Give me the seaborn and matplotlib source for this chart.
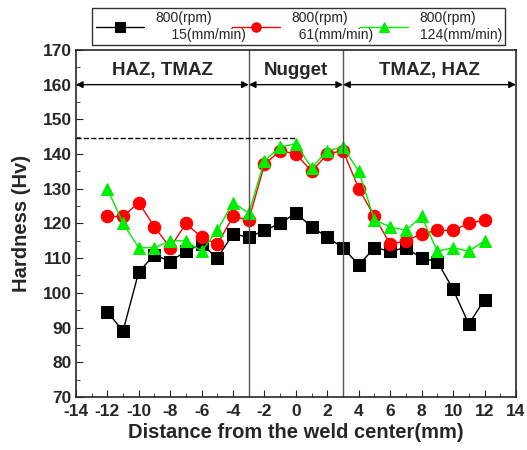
import numpy as np
import pandas as pd
import seaborn as sns
import matplotlib.pyplot as plt
from matplotlib.ticker import MultipleLocator

distance = list(range(-12, 13))
hv_15 = [94.5, 89, 106, 111, 109, 112, 114, 110, 117, 116, 118, 120, 123,
         119, 116, 113, 108, 113, 112, 113, 110, 109, 101, 91, 98]
hv_61 = [122, 122, 126, 119, 113, 120, 116, 114, 122, 121, 137, 141, 140,
         135, 140, 141, 130, 122, 114, 115, 117, 118, 118, 120, 121]
hv_124 = [130, 120, 113, 113, 115, 115, 112, 118, 126, 123, 138, 142, 143,
          136, 141, 142, 135, 121, 119, 118, 122, 112, 113, 112, 115]
labels = ['800(rpm)\n    15(mm/min)', '800(rpm)\n  61(mm/min)', '800(rpm)\n124(mm/min)']
zones = ['HAZ, TMAZ', 'Nugget', 'TMAZ, HAZ']
zone_edges = [-14, -3, 3, 14]

sns.set_style('ticks')
plt.rcParams['font.family'] = ['Liberation Sans', 'DejaVu Sans']
plt.rcParams['font.weight'] = 'bold'
plt.rcParams['axes.unicode_minus'] = False

fig = plt.figure(figsize=(5.27, 4.5), dpi=100)
ax = fig.add_axes([0.144, 0.118, 0.835, 0.771])

series = [(hv_15, 'black', 's'), (hv_61, 'red', 'o'), (hv_124, '#00ee00', '^')]
for (vals, col, mk), lab in zip(series, labels):
    sns.lineplot(x=distance, y=vals, ax=ax, color=col, marker=mk, markersize=9,
                 markeredgecolor=col, linewidth=1, label=lab)

# zone separators and arrows
for xv in [-3, 3]:
    ax.axvline(xv, color='#555555', lw=1)
for a, b, name in zip(zone_edges[:-1], zone_edges[1:], zones):
    ax.annotate('', xy=(b, 160), xytext=(a, 160),
                arrowprops=dict(arrowstyle='<|-|>', color='black', lw=1,
                                mutation_scale=10, shrinkA=0, shrinkB=0))
    ax.text((a + b) / 2, 164, name, ha='center', va='center',
            fontsize=13.5, fontweight='bold')
ax.plot([-14, 0], [144.5, 144.5], color='black', ls='--', lw=1)

ax.set_xlim(-14, 14)
ax.set_ylim(70, 170)
ax.xaxis.set_major_locator(MultipleLocator(2))
ax.xaxis.set_minor_locator(MultipleLocator(1))
ax.yaxis.set_major_locator(MultipleLocator(10))
ax.yaxis.set_minor_locator(MultipleLocator(5))
ax.tick_params(which='both', direction='in', top=False, right=False)
ax.tick_params(which='major', length=5, labelsize=12.5, pad=3)
ax.tick_params(axis='x', which='major', pad=5)
ax.tick_params(which='minor', length=3)
for sp in ax.spines.values():
    sp.set_visible(True)
    sp.set_linewidth(1.2)

ax.set_xlabel('Distance from the weld center(mm)', fontsize=14.5, fontweight='bold', labelpad=3)
ax.set_ylabel('Hardness (Hv)', fontsize=14.5, fontweight='bold', labelpad=8)

handles, labs = ax.get_legend_handles_labels()
ax.legend_.remove()
leg = fig.legend(handles, labs, ncol=3, loc='center',
                 bbox_to_anchor=(0.162, 0.893, 0.81, 0.096), mode='expand',
                 frameon=True, fancybox=False, edgecolor='black',
                 prop={'size': 10, 'weight': 'normal'}, handlelength=3.5,
                 markerscale=0.75, borderpad=0.25, columnspacing=1,
                 labelspacing=0.2)
leg.get_frame().set_linewidth(1)

fig.savefig('out.png', dpi=100)
